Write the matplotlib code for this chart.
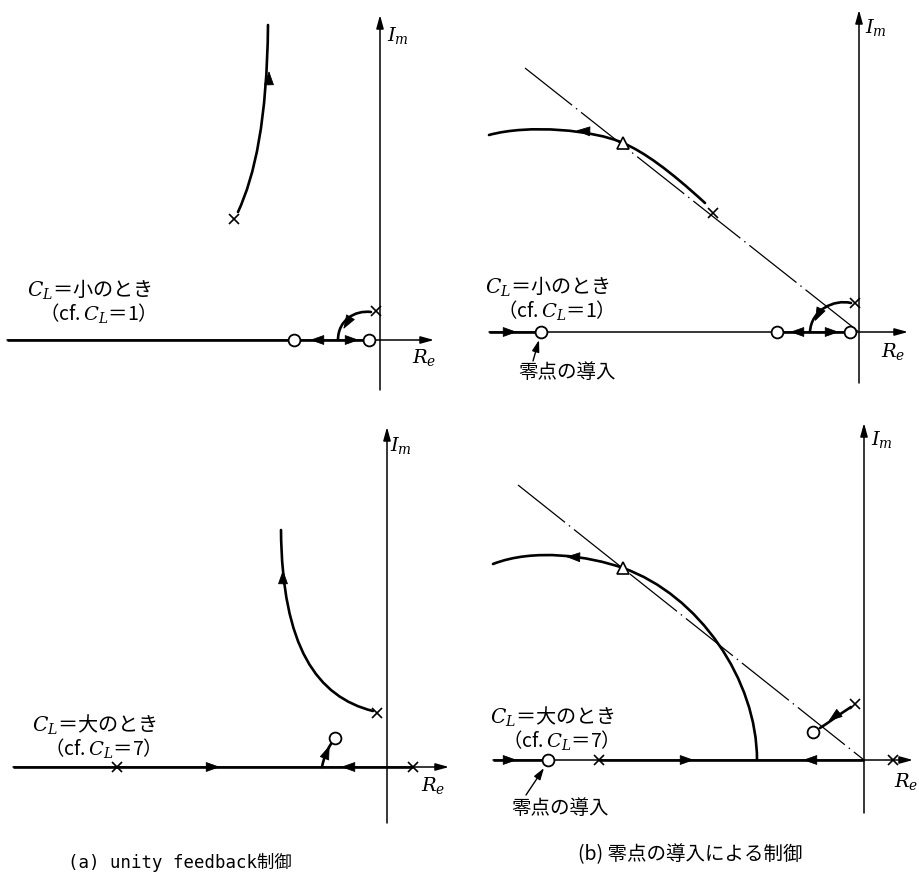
import numpy as np
import matplotlib
matplotlib.use('Agg')
import matplotlib.pyplot as plt
import matplotlib.patches as mpatches
from matplotlib.path import Path

plt.rcParams['font.family'] = ['Noto Sans CJK JP', 'DejaVu Sans']
plt.rcParams['mathtext.fontset'] = 'dejavuserif'

# s-plane sketches, one local frame per panel (origin at Re/Im crossing)

# (a) unity feedback, C_L small
a1_poles = [(-146, 121), (-4, 29)]
a1_zeros = [(-86, 0), (-11, 0)]
a1_real_locus = [(-373, -86), (-86, -11)]
a1_branches = [
    [(-142, 128), (-125, 165), (-113, 220), (-112, 315)],
    [(-9, 28), (-25, 30), (-42, 20), (-42, 0)],
]
a1_arrows = [(-111, 262, 0, 1), (-33, 17, -0.6, -1), (-63, 0, -1, 0), (-28, 0, 1, 0)]

# (b) zero added, C_L small
b1_poles = [(-146, 119), (-4, 29)]
b1_zeros = [(-318, 0), (-82, 0), (-9, 0)]
b1_real_locus = [(-370, -318), (-82, -9)]
b1_asym = [(-334, 264), (0, 0)]
b1_branches = [
    [(-154, 129), (-190, 162), (-215, 180), (-236, 189),
     (-265, 202), (-330, 208), (-370, 197)],
    [(-8, 29), (-25, 33), (-48, 22), (-49, 0)],
]
b1_tri = [(-236, 189)]
b1_arrows = [(-276, 201, -1, 0.05), (-41, 17, -0.5, -1), (-62, 0, -1, 0),
             (-27, 0, 1, 0), (-349, 0, 1, 0)]

# (a) unity feedback, C_L large
a2_poles = [(-270, 0), (26, 0), (-10, 54)]
a2_zeros = [(-52, 29)]
a2_real_locus = [(-374, 26)]
a2_branches = [
    [(-14, 56), (-70, 70), (-105, 120), (-106, 237)],
    [(-65, 0), (-63, 10), (-60, 17), (-56, 23)],
]
a2_arrows = [(-104, 190, 0, 1), (-60, 15, 0.4, 1), (-174, 0, 1, 0), (-39, 0, -1, 0)]

# (b) zero added, C_L large
b2_poles = [(-265, 0), (29, 0), (-9, 56)]
b2_zeros = [(-316, 0), (-51, 28)]
b2_real_locus = [(-371, -316), (-265, 0)]
b2_asym = [(-346, 275), (0, 0)]
b2_branches = [
    [(-107, 0), (-107, 80), (-165, 165), (-241, 192),
     (-275, 204), (-330, 212), (-371, 196)],
    [(-13, 53), (-24, 46), (-36, 37), (-44, 32)],
]
b2_tri = [(-241, 192)]
b2_arrows = [(-291, 203, -1, 0.03), (-30, 43, -1, -0.75), (-354, 0, 1, 0),
             (-177, 0, 1, 0), (-54, 0, -1, 0)]

W, H = 919, 877
fig = plt.figure(figsize=(W / 100, H / 100), dpi=100)


def panel(x0, y0, x1, y1, ox, oy):
    ax = fig.add_axes([x0 / W, 1 - y1 / H, (x1 - x0) / W, (y1 - y0) / H])
    ax.set_xlim(x0 - ox, x1 - ox)
    ax.set_ylim(oy - y1, oy - y0)
    ax.axis('off')
    return ax


def axis_arrow(ax, p0, p1):
    ax.annotate('', xy=p1, xytext=p0,
                arrowprops=dict(arrowstyle='-|>,head_length=0.8,head_width=0.22',
                                fc='k', ec='k', lw=1.1, shrinkA=0, shrinkB=0))


def draw_axes(ax, im, re):
    axis_arrow(ax, (0, im[0]), (0, im[1]))
    axis_arrow(ax, (re[0], 0), (re[1], 0))


def curve(ax, pts):
    codes = [Path.MOVETO] + [Path.CURVE4] * (len(pts) - 1)
    ax.add_patch(mpatches.PathPatch(Path(pts, codes), fill=False, ec='k',
                                    lw=1.9, capstyle='round', zorder=3))


def heads(ax, arrows):
    for x, y, dx, dy in arrows:
        n = np.hypot(dx, dy)
        ux, uy = dx / n, dy / n
        ax.annotate('', xy=(x + 7 * ux, y + 7 * uy), xytext=(x - 7 * ux, y - 7 * uy),
                    arrowprops=dict(arrowstyle='-|>,head_length=0.9,head_width=0.32',
                                    fc='k', ec='k', lw=0.6, shrinkA=0, shrinkB=0),
                    zorder=4)


def real_locus(ax, segs):
    for a, b in segs:
        ax.plot([a, b], [0, 0], color='k', lw=1.9, zorder=3, solid_capstyle='butt')


def poles_zeros(ax, poles, zeros):
    px, py = zip(*poles)
    ax.plot(px, py, 'x', color='k', ms=7, mew=1.2, zorder=5)
    zx, zy = zip(*zeros)
    ax.plot(zx, zy, 'o', mfc='white', mec='k', ms=8.5, mew=1.3, zorder=6)


def asymptote(ax, pts):
    xs, ys = zip(*pts)
    ax.plot(xs, ys, color='k', lw=0.9, ls=(0, (48, 4, 1.2, 4)), zorder=2)


def labels(ax, x, y, txt1, txt2):
    ax.text(x, y, txt1, ha='center', va='center', fontsize=14.5)
    ax.text(x + 2, y - 23, txt2, ha='center', va='center', fontsize=14)


def axis_names(ax, im_xy, re_xy):
    ax.text(*im_xy, '$I_m$', ha='center', va='center', fontsize=14)
    ax.text(*re_xy, '$R_e$', ha='center', va='center', fontsize=14)


def pointer(ax, text_xy, p0, p1):
    ax.text(*text_xy, '零点の導入', ha='center', va='center', fontsize=14)
    ax.annotate('', xy=p1, xytext=p0,
                arrowprops=dict(arrowstyle='-|>,head_length=0.7,head_width=0.22',
                                fc='k', ec='k', lw=1.0, shrinkA=0, shrinkB=0))


# upper left
ax = panel(0, 0, 459, 420, 380, 340)
draw_axes(ax, (-50, 325), (-373, 54))
real_locus(ax, a1_real_locus)
for br in a1_branches:
    curve(ax, br)
heads(ax, a1_arrows)
poles_zeros(ax, a1_poles, a1_zeros)
labels(ax, -290, 50, '$C_L$＝小のとき', '（cf.$\\,C_L$＝1）')
axis_names(ax, (18, 305), (44, -17))

# upper right
ax = panel(459, 0, 919, 420, 859, 332)
draw_axes(ax, (-51, 322), (-370, 49))
asymptote(ax, b1_asym)
real_locus(ax, b1_real_locus)
for br in b1_branches:
    curve(ax, br)
heads(ax, b1_arrows)
poles_zeros(ax, b1_poles, b1_zeros)
tx, ty = zip(*b1_tri)
ax.plot(tx, ty, '^', mfc='white', mec='k', ms=9, mew=1.2, zorder=6)
labels(ax, -311, 45, '$C_L$＝小のとき', '（cf.$\\,C_L$＝1）')
pointer(ax, (-292, -40), (-326, -29), (-320, -8))
axis_names(ax, (17, 305), (34, -20))

# lower left
ax = panel(0, 420, 459, 877, 387, 767)
draw_axes(ax, (-56, 340), (-374, 62))
real_locus(ax, a2_real_locus)
for br in a2_branches:
    curve(ax, br)
heads(ax, a2_arrows)
poles_zeros(ax, a2_poles, a2_zeros)
labels(ax, -292, 42, '$C_L$＝大のとき', '（cf.$\\,C_L$＝7）')
axis_names(ax, (14, 322), (46, -18))

# lower right
ax = panel(459, 420, 919, 877, 864, 760)
draw_axes(ax, (-53, 337), (-371, 49))
asymptote(ax, b2_asym)
real_locus(ax, b2_real_locus)
for br in b2_branches:
    curve(ax, br)
heads(ax, b2_arrows)
poles_zeros(ax, b2_poles, b2_zeros)
tx, ty = zip(*b2_tri)
ax.plot(tx, ty, '^', mfc='white', mec='k', ms=9, mew=1.2, zorder=6)
labels(ax, -311, 43, '$C_L$＝大のとき', '（cf.$\\,C_L$＝7）')
pointer(ax, (-304, -48), (-338, -35), (-320, -8))
axis_names(ax, (18, 320), (42, -22))

fig.text(180 / W, 1 - 862 / H, '(a) unity feedback制御', ha='center', va='center',
         fontsize=12.5, family=['DejaVu Sans Mono', 'Noto Sans CJK JP'])
fig.text(690 / W, 1 - 855 / H, '(b) 零点の導入による制御', ha='center', va='center',
         fontsize=14)

fig.savefig('out.png', dpi=100, facecolor='white')
